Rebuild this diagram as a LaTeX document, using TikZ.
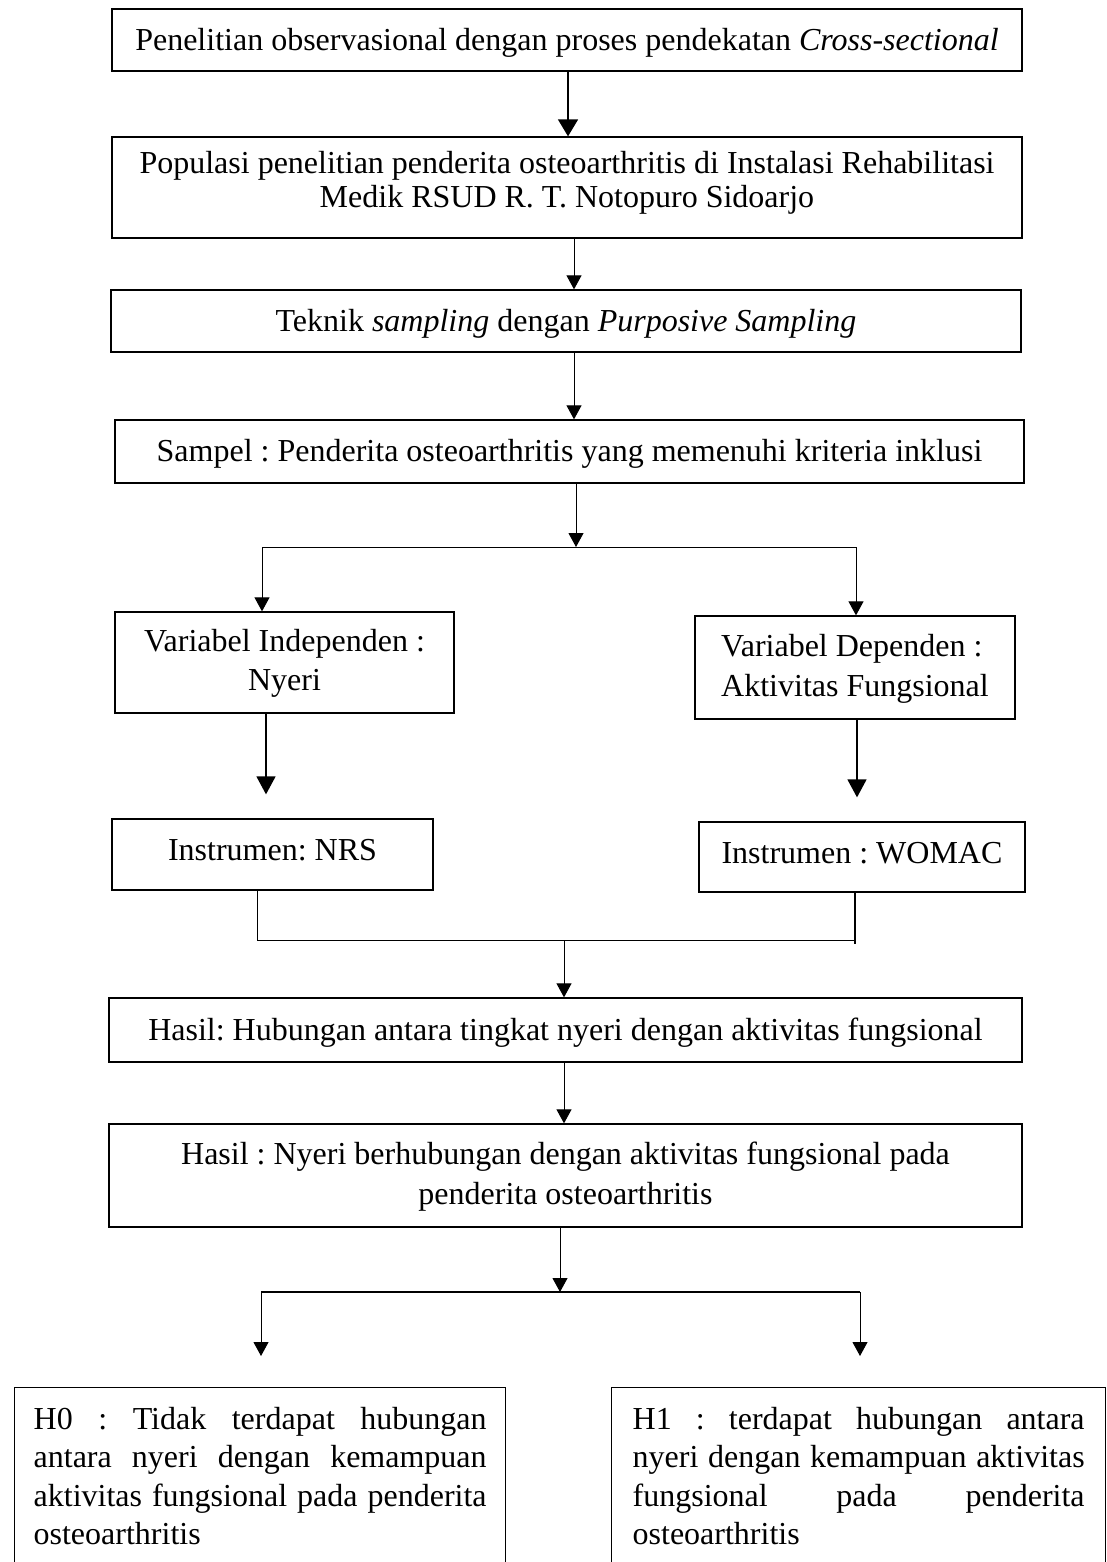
\documentclass[tikz,border=0pt]{standalone}
\usepackage{fontspec}
\setmainfont{Liberation Serif}
\usetikzlibrary{arrows.meta}
\frenchspacing
\newcommand{\lnsC}[2]{\vtop{\baselineskip=#1\lineskiplimit=-100pt\lineskip=0pt\halign{\hfil##\hfil\cr#2\crcr}}}
\newcommand{\lnsL}[2]{\vtop{\baselineskip=#1\lineskiplimit=-100pt\lineskip=0pt\halign{##\hfil\cr#2\crcr}}}
\newcommand{\hypset}{\hyphenpenalty=10000 \exhyphenpenalty=10000 \tolerance=10000 \relax}
\begin{document}
\begin{tikzpicture}[x=1pt,y=-1pt,
  box/.style={draw, line width=1.3pt, inner sep=0pt, text height=30pt, font=\fontsize{32}{38}\selectfont},
  arr/.style={-{Triangle[width=15pt,length=14pt]}, line width=1pt},
  tarr/.style={-{Triangle[width=19pt,length=18pt]}, line width=1.5pt},
  ln/.style={line width=1pt},
  hyp/.style={draw, line width=1.3pt, anchor=north west, inner ysep=0pt, align=justify, text height=42pt, text depth=260pt, font=\fontsize{32}{38.3}\selectfont\hypset}
]
\useasboundingbox (0,0) rectangle (1107,1562);
\clip (0,0) rectangle (1107,1562);

\node[box, minimum width=910pt, minimum height=62pt, text depth=8pt] (b1) at (567,40) {Penelitian observasional dengan proses pendekatan \textit{Cross-sectional}};
\node[box, minimum width=910pt, minimum height=101pt, text depth=57pt] (b2) at (567,187.5) {\lnsC{34pt}{Populasi penelitian penderita osteoarthritis di Instalasi Rehabilitasi\cr Medik RSUD R. T. Notopuro Sidoarjo}};
\node[box, minimum width=910pt, minimum height=62pt, text depth=10pt] (b3) at (566,321) {Teknik \textit{sampling} dengan \textit{Purposive Sampling}};
\node[box, minimum width=909pt, minimum height=63pt, text depth=11pt] (b4) at (569.5,451.5) {Sampel : Penderita osteoarthritis yang memenuhi kriteria inklusi};
\node[box, minimum width=339pt, minimum height=101pt, text depth=53pt] (vl) at (284.5,662.5) {\lnsC{39pt}{Variabel Independen :\cr Nyeri}};
\node[box, minimum width=320pt, minimum height=103pt, text depth=53pt] (vr) at (855,667.5) {\lnsL{40pt}{Variabel Dependen :\cr Aktivitas Fungsional}};
\node[box, minimum width=321pt, minimum height=71pt, text depth=19pt] (nrs) at (272.5,854.5) {Instrumen: NRS};
\node[box, minimum width=326pt, minimum height=70pt, text depth=18pt] (wo) at (862,857) {Instrumen : WOMAC};
\node[box, minimum width=913pt, minimum height=64pt, text depth=10pt] (r1) at (565.5,1030) {Hasil: Hubungan antara tingkat nyeri dengan aktivitas fungsional};
\node[box, minimum width=913pt, minimum height=103pt, text depth=53pt] (r2) at (565.5,1175.5) {\lnsC{40pt}{Hasil : Nyeri berhubungan dengan aktivitas fungsional pada\cr penderita osteoarthritis}};
\node[hyp, text width=453pt, inner xsep=19pt] (h0) at (14,1387) {H0 : Tidak terdapat hubungan\linebreak antara nyeri dengan kemampuan\linebreak aktivitas fungsional pada penderita\linebreak osteoarthritis};
\node[hyp, text width=452pt, inner xsep=21pt] (h1) at (611,1387) {H1 : terdapat hubungan antara\linebreak nyeri dengan kemampuan aktivitas\linebreak fungsional pada penderita\linebreak osteoarthritis};

\coordinate (s1) at (576,547);
\coordinate (s1l) at (262,547);
\coordinate (s1r) at (856,547);
\coordinate (s2l) at (257,940);
\coordinate (s2r) at (855,940);
\coordinate (s2) at (564,940);
\coordinate (s3) at (560,1292);
\coordinate (s3l) at (261,1292);
\coordinate (s3r) at (860,1292);

\draw[line width=1.6pt, -{Triangle[width=20pt,length=17pt]}] ([xshift=1pt]b1.south) -- ([xshift=1pt]b1.south |- b2.north);
\draw[arr] ([xshift=7pt]b2.south) -- ([xshift=7pt]b2.south |- b3.north);
\draw[arr] ([xshift=8pt]b3.south) -- ([xshift=8pt]b3.south |- b4.north);
\draw[arr] ([xshift=6.5pt]b4.south) -- (s1);
\draw[ln] (s1l) -- (s1r);
\draw[arr] (s1l) -- (s1l |- vl.north);
\draw[arr] (s1r) -- (s1r |- vr.north);
\draw[tarr, shorten >=24pt] ([xshift=-18.5pt]vl.south) -- ([xshift=-18.5pt]vl.south |- nrs.north);
\draw[tarr, shorten >=24pt] ([xshift=2pt]vr.south) -- ([xshift=2pt]vr.south |- wo.north);
\draw[ln] (nrs.south -| s2l) -- (s2l) -- (s2r);
\draw[line width=2.5pt] (wo.south -| s2r) -- ([yshift=-4pt]s2r);
\draw[arr] (s2) -- (s2 |- r1.north);
\draw[arr] ([xshift=-1.5pt]r1.south) -- ([xshift=-1.5pt]r1.south |- r2.north);
\draw[arr] ([xshift=-5.5pt]r2.south) -- (s3);
\draw[line width=2.2pt] (s3l) -- (s3r);
\draw[arr, shorten >=31pt] (s3l) -- (s3l |- h0.north);
\draw[arr, shorten >=31pt] (s3r) -- (s3r |- h1.north);
\end{tikzpicture}
\end{document}
